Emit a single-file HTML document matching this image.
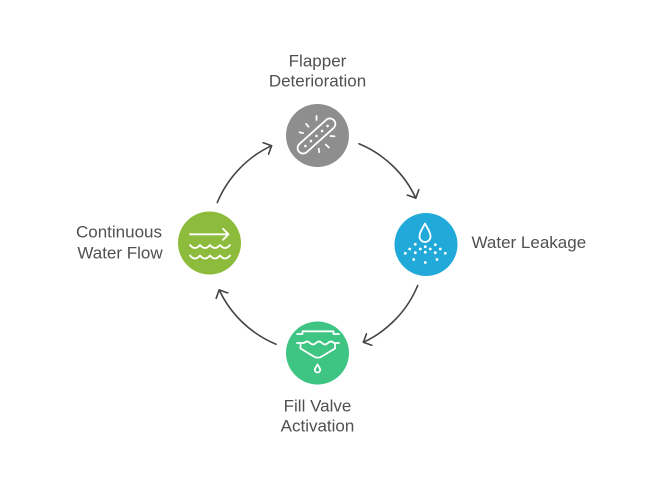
<!DOCTYPE html>
<html>
<head>
<meta charset="utf-8">
<style>
  html, body { margin: 0; padding: 0; background: #ffffff; }
  body { width: 654px; height: 483px; overflow: hidden; }
  svg { display: block; }
  text { font-family: "Liberation Sans", "DejaVu Sans", sans-serif; font-size: 17px; fill: #505050; }
</style>
</head>
<body>
<svg width="654" height="483" viewBox="0 0 654 483" xmlns="http://www.w3.org/2000/svg">
  <defs>
    <marker id="ah" markerUnits="userSpaceOnUse" markerWidth="16" markerHeight="16" refX="7" refY="7" orient="auto">
      <path d="M0.5,0.5 L7,7 L0.5,13.5" fill="none" stroke="#444" stroke-width="1.6" stroke-linecap="round" stroke-linejoin="round"/>
    </marker>
  </defs>

  <!-- connectors -->
  <g fill="none" stroke="#444" stroke-width="1.6" stroke-linecap="round">
    <path d="M359,143.8 A108.5,108.5 0 0 1 415.8,198.1" marker-end="url(#ah)"/>
    <path d="M417.7,285.5 A108.5,108.5 0 0 1 363.4,342.3" marker-end="url(#ah)"/>
    <path d="M276,344.2 A108.5,108.5 0 0 1 219.2,289.9" marker-end="url(#ah)"/>
    <path d="M217.3,202.5 A108.5,108.5 0 0 1 271.6,145.7" marker-end="url(#ah)"/>
  </g>

  <!-- Top: Flapper Deterioration -->
  <circle cx="317.5" cy="135.5" r="31.5" fill="#8e8e8e"/>
  <g transform="translate(316.5,136)" stroke="#fff" fill="none" stroke-width="1.8" stroke-linecap="round">
    <rect x="-23.5" y="-5.5" width="47" height="11" rx="5.5" transform="rotate(-42)"/>
    <g fill="#fff" stroke="none" transform="rotate(-42)">
      <circle cx="-15" cy="0" r="1.3"/>
      <circle cx="-7.5" cy="0" r="1.3"/>
      <circle cx="0" cy="0" r="1.3"/>
      <circle cx="7.5" cy="0" r="1.3"/>
      <circle cx="15" cy="0" r="1.3"/>
    </g>
    <line x1="-8" y1="-9.3" x2="-10.4" y2="-12.1"/>
    <line x1="-13.4" y1="-2.9" x2="-17" y2="-3.7"/>
    <line x1="0" y1="-16" x2="0" y2="-20"/>
    <line x1="14" y1="0" x2="18" y2="0.4"/>
    <line x1="9.3" y1="8.6" x2="12.3" y2="11.4"/>
    <line x1="2.2" y1="12.6" x2="2.8" y2="16.2"/>
  </g>
  <text x="317.5" y="66.5" text-anchor="middle">Flapper</text>
  <text x="317.5" y="86.5" text-anchor="middle">Deterioration</text>

  <!-- Right: Water Leakage -->
  <circle cx="426" cy="244.5" r="31.5" fill="#21a9d9"/>
  <path d="M425,223.5 C423,228 419.5,231.5 419.5,236.5 A5.5,5.5 0 0 0 430.5,236.5 C430.5,231.5 427,228 425,223.5 Z" fill="none" stroke="#fff" stroke-width="1.8" stroke-linejoin="round"/>
  <g fill="#fff">
    <circle cx="415.3" cy="244.3" r="1.4"/>
    <circle cx="425.3" cy="246.7" r="1.4"/>
    <circle cx="435.3" cy="244.7" r="1.4"/>
    <circle cx="409.7" cy="249" r="1.4"/>
    <circle cx="420.3" cy="249" r="1.4"/>
    <circle cx="430.3" cy="249" r="1.4"/>
    <circle cx="440.3" cy="249" r="1.4"/>
    <circle cx="405.3" cy="253.3" r="1.4"/>
    <circle cx="415.3" cy="252.7" r="1.4"/>
    <circle cx="425.3" cy="252.2" r="1.4"/>
    <circle cx="435.3" cy="252.7" r="1.4"/>
    <circle cx="445.3" cy="253.3" r="1.4"/>
    <circle cx="413.7" cy="259.5" r="1.4"/>
    <circle cx="425.3" cy="262.5" r="1.4"/>
    <circle cx="437" cy="259.5" r="1.4"/>
  </g>
  <text x="471.5" y="248">Water Leakage</text>

  <!-- Bottom: Fill Valve Activation -->
  <circle cx="317.5" cy="353" r="31.5" fill="#3ec584"/>
  <g stroke="#fff" fill="none" stroke-width="1.8" stroke-linecap="round" stroke-linejoin="round">
    <path d="M297,334 L302.5,334 L302.5,331.3 L333.5,331.3 L333.5,334 L339,334"/>
    <path d="M297,343 L304,343 Q307,340 310,343 Q313,346 316,343 Q319,340 322,343 Q325,346 328,343 Q331,340 334,343 L339,343"/>
    <path d="M300.5,344.5 L300.5,348.5 L315.5,357.5 L320,357.5 L335,348.5 L335,344.5"/>
    <path d="M317.5,364.5 C316.5,366.5 314.8,368 314.8,369.8 A2.7,2.7 0 0 0 320.2,369.8 C320.2,368 318.5,366.5 317.5,364.5 Z"/>
  </g>
  <text x="317.5" y="411.5" text-anchor="middle">Fill Valve</text>
  <text x="317.5" y="431.5" text-anchor="middle">Activation</text>

  <!-- Left: Continuous Water Flow -->
  <circle cx="209.5" cy="243" r="31.5" fill="#8dbb3c"/>
  <g stroke="#fff" fill="none" stroke-width="1.8" stroke-linecap="round" stroke-linejoin="round">
    <path d="M190,234.3 L228.3,234.3"/>
    <path d="M223,228.8 L228.5,234.3 L223,239.8"/>
    <path d="M190,245 Q195,251 200,245 Q205,251 210,245 Q215,251 220,245 Q225,251 230,245"/>
    <path d="M190,255.5 Q195,261.5 200,255.5 Q205,261.5 210,255.5 Q215,261.5 220,255.5 Q225,261.5 230,255.5"/>
  </g>
  <text x="119" y="237.5" text-anchor="middle">Continuous</text>
  <text x="120" y="258.5" text-anchor="middle">Water Flow</text>
</svg>
</body>
</html>
